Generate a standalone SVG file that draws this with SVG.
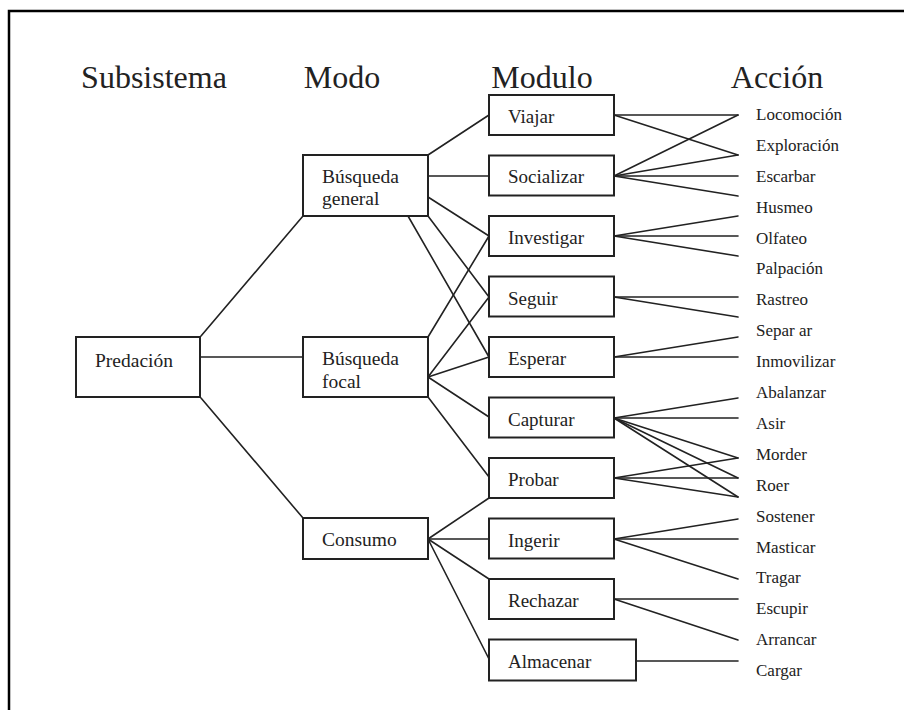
<svg xmlns="http://www.w3.org/2000/svg" width="904" height="710" viewBox="0 0 904 710">
  <style>
    text { font-family: "Liberation Serif", "DejaVu Serif", serif; fill: #222; }
    .hdr { font-size: 32px; text-anchor: middle; }
    .node rect { fill: #fff; stroke: #222; stroke-width: 2; }
    .node text { font-size: 19.5px; }
    .mod text { font-size: 19px; }
    .act { font-size: 17px; }
    #connectors line { stroke: #222; stroke-width: 1.6; stroke-linecap: round; }
    .frame { fill: none; stroke: #000; stroke-width: 2.5; }
  </style>
  <rect width="904" height="710" fill="#fff"/>
  <path class="frame" d="M9,710 V11 H904"/>

  <!-- column headings -->
  <text class="hdr" x="154" y="88">Subsistema</text>
  <text class="hdr" x="342" y="88">Modo</text>
  <text class="hdr" x="542" y="88">Modulo</text>
  <text class="hdr" x="777" y="88">Acción</text>

  <!-- connectors -->
  <g id="connectors">
    <!-- subsystem to modes -->
    <line x1="201" y1="336" x2="303" y2="216"/>
    <line x1="201" y1="357" x2="303" y2="357"/>
    <line x1="201" y1="398" x2="303" y2="518"/>
    <!-- Búsqueda general -->
    <line x1="428" y1="155" x2="489" y2="115"/>
    <line x1="428" y1="176" x2="489" y2="176"/>
    <line x1="428" y1="197" x2="489" y2="236"/>
    <line x1="428" y1="216" x2="489" y2="297"/>
    <line x1="408" y1="216" x2="489" y2="357"/>
    <!-- Búsqueda focal -->
    <line x1="428" y1="337" x2="489" y2="236"/>
    <line x1="428" y1="377" x2="489" y2="297"/>
    <line x1="428" y1="377" x2="489" y2="357"/>
    <line x1="428" y1="377" x2="489" y2="417"/>
    <line x1="428" y1="397" x2="489" y2="477"/>
    <!-- Consumo -->
    <line x1="428" y1="539" x2="489" y2="498"/>
    <line x1="428" y1="539" x2="489" y2="539"/>
    <line x1="428" y1="539" x2="489" y2="579"/>
    <line x1="428" y1="539" x2="489" y2="659"/>
    <!-- modules to actions -->
    <line x1="614" y1="115" x2="738" y2="115"/>
    <line x1="614" y1="115" x2="738" y2="155"/>
    <line x1="614" y1="176" x2="738" y2="115"/>
    <line x1="614" y1="176" x2="738" y2="155"/>
    <line x1="614" y1="176" x2="738" y2="176"/>
    <line x1="614" y1="176" x2="738" y2="196"/>
    <line x1="614" y1="236" x2="738" y2="216"/>
    <line x1="614" y1="236" x2="738" y2="236"/>
    <line x1="614" y1="236" x2="738" y2="256"/>
    <line x1="614" y1="297" x2="738" y2="297"/>
    <line x1="614" y1="297" x2="738" y2="317"/>
    <line x1="614" y1="357" x2="738" y2="337"/>
    <line x1="614" y1="357" x2="738" y2="357"/>
    <line x1="614" y1="418" x2="738" y2="398"/>
    <line x1="614" y1="418" x2="738" y2="418"/>
    <line x1="614" y1="418" x2="738" y2="458"/>
    <line x1="614" y1="418" x2="738" y2="478"/>
    <line x1="614" y1="418" x2="738" y2="497"/>
    <line x1="614" y1="478" x2="738" y2="458"/>
    <line x1="614" y1="478" x2="738" y2="478"/>
    <line x1="614" y1="478" x2="738" y2="497"/>
    <line x1="614" y1="539" x2="738" y2="519"/>
    <line x1="614" y1="539" x2="738" y2="539"/>
    <line x1="614" y1="539" x2="738" y2="579"/>
    <line x1="614" y1="599" x2="738" y2="599"/>
    <line x1="614" y1="599" x2="738" y2="640"/>
    <line x1="636" y1="661" x2="738" y2="661"/>
  </g>

  <!-- subsystem -->
  <g id="predacion" class="node"><rect x="76" y="337" width="124" height="60"/><text x="95" y="367">Predación</text></g>

  <!-- modes -->
  <g id="busqueda-general" class="node"><rect x="303" y="155" width="125" height="61"/><text x="322" y="183">Búsqueda</text><text x="322" y="205">general</text></g>
  <g id="busqueda-focal" class="node"><rect x="303" y="337" width="125" height="60"/><text x="322" y="365">Búsqueda</text><text x="322" y="388">focal</text></g>
  <g id="consumo" class="node"><rect x="303" y="518" width="125" height="41"/><text x="322" y="546">Consumo</text></g>

  <!-- modules -->
  <g id="viajar" class="node mod"><rect x="489" y="95" width="125" height="40"/><text x="508" y="123">Viajar</text></g>
  <g id="socializar" class="node mod"><rect x="489" y="155.5" width="125" height="40"/><text x="508" y="183">Socializar</text></g>
  <g id="investigar" class="node mod"><rect x="489" y="216" width="125" height="40"/><text x="508" y="244">Investigar</text></g>
  <g id="seguir" class="node mod"><rect x="489" y="276.5" width="125" height="40"/><text x="508" y="305">Seguir</text></g>
  <g id="esperar" class="node mod"><rect x="489" y="337" width="125" height="40"/><text x="508" y="365">Esperar</text></g>
  <g id="capturar" class="node mod"><rect x="489" y="397.5" width="125" height="40"/><text x="508" y="426">Capturar</text></g>
  <g id="probar" class="node mod"><rect x="489" y="458" width="125" height="40"/><text x="508" y="486">Probar</text></g>
  <g id="ingerir" class="node mod"><rect x="489" y="518.5" width="125" height="40"/><text x="508" y="547">Ingerir</text></g>
  <g id="rechazar" class="node mod"><rect x="489" y="579" width="125" height="40"/><text x="508" y="607">Rechazar</text></g>
  <g id="almacenar" class="node mod"><rect x="489" y="639.5" width="147" height="41"/><text x="508" y="668">Almacenar</text></g>

  <!-- actions -->
  <g id="acciones">
    <text class="act" x="756" y="120">Locomoción</text>
    <text class="act" x="756" y="151">Exploración</text>
    <text class="act" x="756" y="182">Escarbar</text>
    <text class="act" x="756" y="213">Husmeo</text>
    <text class="act" x="756" y="244">Olfateo</text>
    <text class="act" x="756" y="274">Palpación</text>
    <text class="act" x="756" y="305">Rastreo</text>
    <text class="act" x="756" y="336">Separ ar</text>
    <text class="act" x="756" y="367">Inmovilizar</text>
    <text class="act" x="756" y="398">Abalanzar</text>
    <text class="act" x="756" y="429">Asir</text>
    <text class="act" x="756" y="460">Morder</text>
    <text class="act" x="756" y="491">Roer</text>
    <text class="act" x="756" y="522">Sostener</text>
    <text class="act" x="756" y="553">Masticar</text>
    <text class="act" x="756" y="583">Tragar</text>
    <text class="act" x="756" y="614">Escupir</text>
    <text class="act" x="756" y="645">Arrancar</text>
    <text class="act" x="756" y="676">Cargar</text>
  </g>
</svg>
